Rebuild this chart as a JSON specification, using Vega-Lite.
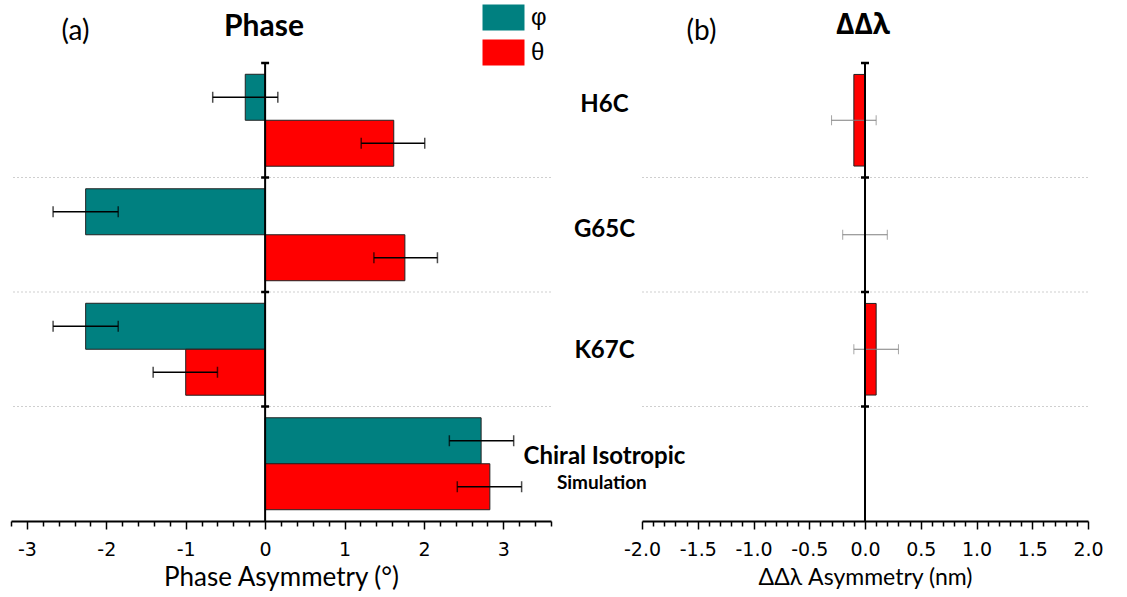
{
  "$schema": "https://vega.github.io/schema/vega-lite/v6.json",
  "padding": {"left": 10, "top": 4, "right": 5, "bottom": 5},
  "background": "white",
  "bounds": "flush",
  "spacing": 91,
  "config": {"view": {"stroke": null}, "font": "Lato, Open Sans"},
  "datasets": {
    "phase": [
      {"cat": "H6C", "s": "φ", "v": -0.25, "lo": -0.66, "hi": 0.16},
      {"cat": "H6C", "s": "θ", "v": 1.62, "lo": 1.21, "hi": 2.01},
      {"cat": "G65C", "s": "φ", "v": -2.26, "lo": -2.67, "hi": -1.85},
      {"cat": "G65C", "s": "θ", "v": 1.76, "lo": 1.37, "hi": 2.17},
      {"cat": "K67C", "s": "φ", "v": -2.26, "lo": -2.67, "hi": -1.85},
      {"cat": "K67C", "s": "θ", "v": -1.0, "lo": -1.41, "hi": -0.6},
      {"cat": "Chiral Isotropic", "s": "φ", "v": 2.72, "lo": 2.32, "hi": 3.13},
      {"cat": "Chiral Isotropic", "s": "θ", "v": 2.83, "lo": 2.42, "hi": 3.23}
    ],
    "ddl": [
      {"cat": "H6C", "v": -0.1, "lo": -0.3, "hi": 0.1},
      {"cat": "G65C", "v": 0, "lo": -0.2, "hi": 0.2},
      {"cat": "K67C", "v": 0.1, "lo": -0.1, "hi": 0.3}
    ],
    "cats": [
      {"cat": "H6C"}, {"cat": "G65C"}, {"cat": "K67C"}, {"cat": "Chiral Isotropic"}
    ],
    "notes": [
      {"cat": "Chiral Isotropic", "note": "Simulation"}
    ]
  },
  "hconcat": [
    {
      "width": 540,
      "height": 458,
      "title": {"text": "Phase", "font": "Lato", "fontSize": 30, "fontWeight": "bold", "color": "black", "anchor": "middle", "frame": "group", "dx": -17, "offset": -25},
      "layer": [
        {
          "data": {"name": "cats"},
          "transform": [{"filter": "datum.cat !== 'H6C'"}],
          "mark": {"type": "rule", "color": "#cfcfcf", "strokeDash": [2, 2], "strokeWidth": 1},
          "encoding": {
            "y": {"field": "cat", "type": "nominal", "bandPosition": 0}
          }
        },
        {
          "data": {"name": "phase"},
          "mark": {"type": "bar", "stroke": "#222222", "strokeWidth": 1},
          "encoding": {
            "x": {
              "field": "v", "type": "quantitative",
              "scale": {"domain": [-3.2, 3.6], "nice": false},
              "axis": {
                "values": [-3.2, -3, -2.8, -2.6, -2.4, -2.2, -2, -1.8, -1.6, -1.4, -1.2, -1, -0.8, -0.6, -0.4, -0.2, 0, 0.2, 0.4, 0.6, 0.8, 1, 1.2, 1.4, 1.6, 1.8, 2, 2.2, 2.4, 2.6, 2.8, 3, 3.2, 3.4, 3.6],
                "tickCount": 200,
                "grid": false,
                "domainColor": "black", "domainWidth": 2,
                "tickColor": "black", "tickWidth": 1.5,
                "tickSize": {"condition": {"test": "abs(datum.value - round(datum.value)) < 0.001", "value": 8}, "value": 5},
                "labelExpr": "abs(datum.value - round(datum.value)) < 0.001 ? ((datum.value < 0 ? '-' : '') + format(abs(datum.value), 'd')) : ''",
                "labelFont": "DejaVu Sans", "labelFontSize": 19, "labelColor": "black", "labelPadding": 11,
                "labelOverlap": false, "labelFlush": false,
                "title": "Phase Asymmetry (°)", "titleFont": "Lato, Open Sans", "titleFontSize": 26, "titleFontWeight": "normal", "titleColor": "black", "titlePadding": 5
              }
            },
            "y": {
              "field": "cat", "type": "nominal",
              "scale": {"domain": ["H6C", "G65C", "K67C", "Chiral Isotropic"], "paddingInner": 0, "paddingOuter": 0},
              "axis": {
                "labels": false, "ticks": false, "domain": false, "grid": false,
                "title": "(a)", "titleAngle": 0, "titleX": 64, "titleY": -32, "titleAlign": "center", "titleBaseline": "middle",
                "titleFont": "Lato", "titleFontSize": 28, "titleFontWeight": "normal", "titleColor": "black"
              }
            },
            "yOffset": {"field": "s", "type": "nominal", "scale": {"domain": ["φ", "θ"], "paddingOuter": 0.245, "paddingInner": 0}},
            "color": {
              "field": "s", "type": "nominal",
              "scale": {"domain": ["φ", "θ"], "range": ["#008080", "#ff0000"]},
              "legend": {
                "title": null, "orient": "none", "legendX": 479, "legendY": -59, "padding": 0,
                "symbolType": "M-1.615,-1H1.615V1H-1.615Z", "symbolSize": 676,
                "symbolStrokeColor": "#222222", "symbolStrokeWidth": 1, "symbolOpacity": 1,
                "labelFont": "Liberation Sans", "labelFontSize": 24, "labelColor": "black", "labelOffset": 14,
                "rowPadding": 4,
                "encode": {"symbols": {"update": {"fill": {"signal": "datum.value === 'φ' ? '#006b6b' : '#ff0000'"}}}}
              }
            }
          }
        },
        {
          "data": {"name": "phase"},
          "mark": {"type": "rule", "color": "black", "strokeWidth": 1.5},
          "encoding": {
            "x": {"field": "lo", "type": "quantitative"},
            "x2": {"field": "hi"},
            "y": {"field": "cat", "type": "nominal"},
            "yOffset": {"field": "s", "type": "nominal"}
          }
        },
        {
          "data": {"name": "phase"},
          "mark": {"type": "tick", "color": "black", "thickness": 1.5, "size": 11},
          "encoding": {
            "x": {"field": "lo", "type": "quantitative"},
            "y": {"field": "cat", "type": "nominal"},
            "yOffset": {"field": "s", "type": "nominal"}
          }
        },
        {
          "data": {"name": "phase"},
          "mark": {"type": "tick", "color": "black", "thickness": 1.5, "size": 11},
          "encoding": {
            "x": {"field": "hi", "type": "quantitative"},
            "y": {"field": "cat", "type": "nominal"},
            "yOffset": {"field": "s", "type": "nominal"}
          }
        },
        {
          "data": {"values": [{}]},
          "mark": {"type": "rule", "color": "black", "strokeWidth": 2},
          "encoding": {"x": {"datum": 0}}
        },
        {
          "data": {"name": "cats"},
          "mark": {"type": "rule", "color": "black", "strokeWidth": 2.5},
          "encoding": {
            "x": {"datum": -0.05},
            "x2": {"datum": 0.05},
            "y": {"field": "cat", "type": "nominal", "bandPosition": 0}
          }
        }
      ]
    },
    {
      "width": 446,
      "height": 458,
      "title": {"text": "ΔΔλ", "font": "Open Sans", "fontSize": 28, "fontWeight": "bold", "color": "black", "anchor": "middle", "frame": "group", "dx": -2, "offset": -23},
      "layer": [
        {
          "data": {"name": "cats"},
          "transform": [{"filter": "datum.cat !== 'H6C'"}],
          "mark": {"type": "rule", "color": "#cfcfcf", "strokeDash": [2, 2], "strokeWidth": 1},
          "encoding": {
            "y": {"field": "cat", "type": "nominal", "bandPosition": 0}
          }
        },
        {
          "data": {"name": "ddl"},
          "mark": {"type": "bar", "color": "#ff0000", "stroke": "#222222", "strokeWidth": 1, "height": {"band": 0.8}},
          "encoding": {
            "x": {
              "field": "v", "type": "quantitative",
              "scale": {"domain": [-2, 2], "nice": false},
              "axis": {
                "values": [-2, -1.9, -1.8, -1.7, -1.6, -1.5, -1.4, -1.3, -1.2, -1.1, -1, -0.9, -0.8, -0.7, -0.6, -0.5, -0.4, -0.3, -0.2, -0.1, 0, 0.1, 0.2, 0.3, 0.4, 0.5, 0.6, 0.7, 0.8, 0.9, 1, 1.1, 1.2, 1.3, 1.4, 1.5, 1.6, 1.7, 1.8, 1.9, 2],
                "tickCount": 200,
                "grid": false,
                "domainColor": "black", "domainWidth": 2,
                "tickColor": "black", "tickWidth": 1.5,
                "tickSize": {"condition": {"test": "abs(datum.value * 2 - round(datum.value * 2)) < 0.001", "value": 8}, "value": 5},
                "labelExpr": "abs(datum.value * 2 - round(datum.value * 2)) < 0.001 ? ((datum.value < -0.001 ? '-' : '') + format(abs(datum.value), '.1f')) : ''",
                "labelFont": "DejaVu Sans", "labelFontSize": 19, "labelColor": "black", "labelPadding": 11,
                "labelOverlap": false, "labelFlush": false,
                "title": "ΔΔλ Asymmetry (nm)", "titleFont": "Lato, Open Sans", "titleFontSize": 23, "titleFontWeight": "normal", "titleColor": "black", "titlePadding": 7
              }
            },
            "y": {
              "field": "cat", "type": "nominal",
              "scale": {"domain": ["H6C", "G65C", "K67C", "Chiral Isotropic"], "paddingInner": 0, "paddingOuter": 0},
              "axis": {
                "ticks": false, "tickSize": 0, "domain": false, "grid": false,
                "labelAlign": "center", "labelBaseline": "middle", "labelPadding": 38,
                "labelFont": "Lato", "labelFontSize": 24, "labelFontWeight": "bold", "labelColor": "black",
                "labelOffset": {"condition": [
                  {"test": "datum.value === 'H6C'", "value": -15},
                  {"test": "datum.value === 'G65C'", "value": -5},
                  {"test": "datum.value === 'Chiral Isotropic'", "value": -7}
                ], "value": 2},
                "title": "(b)", "titleAngle": 0, "titleX": 59, "titleY": -32, "titleAlign": "center", "titleBaseline": "middle",
                "titleFont": "Lato", "titleFontSize": 28, "titleFontWeight": "normal", "titleColor": "black"
              }
            }
          }
        },
        {
          "data": {"name": "ddl"},
          "mark": {"type": "rule", "color": "#7f7f7f", "strokeWidth": 1},
          "encoding": {
            "x": {"field": "lo", "type": "quantitative"},
            "x2": {"field": "hi"},
            "y": {"field": "cat", "type": "nominal"}
          }
        },
        {
          "data": {"name": "ddl"},
          "mark": {"type": "tick", "color": "#7f7f7f", "thickness": 1, "size": 10},
          "encoding": {
            "x": {"field": "lo", "type": "quantitative"},
            "y": {"field": "cat", "type": "nominal"}
          }
        },
        {
          "data": {"name": "ddl"},
          "mark": {"type": "tick", "color": "#7f7f7f", "thickness": 1, "size": 10},
          "encoding": {
            "x": {"field": "hi", "type": "quantitative"},
            "y": {"field": "cat", "type": "nominal"}
          }
        },
        {
          "data": {"values": [{}]},
          "mark": {"type": "rule", "color": "black", "strokeWidth": 2},
          "encoding": {"x": {"datum": 0}}
        },
        {
          "data": {"name": "cats"},
          "mark": {"type": "rule", "color": "black", "strokeWidth": 2.5},
          "encoding": {
            "x": {"datum": -0.036},
            "x2": {"datum": 0.036},
            "y": {"field": "cat", "type": "nominal", "bandPosition": 0}
          }
        },
        {
          "data": {"name": "notes"},
          "mark": {"type": "text", "font": "Lato", "fontSize": 19, "fontWeight": "bold", "color": "black", "align": "center", "baseline": "middle", "dy": 19},
          "encoding": {
            "x": {"datum": -2.36},
            "y": {"field": "cat", "type": "nominal"},
            "text": {"field": "note"}
          }
        }
      ]
    }
  ]
}
